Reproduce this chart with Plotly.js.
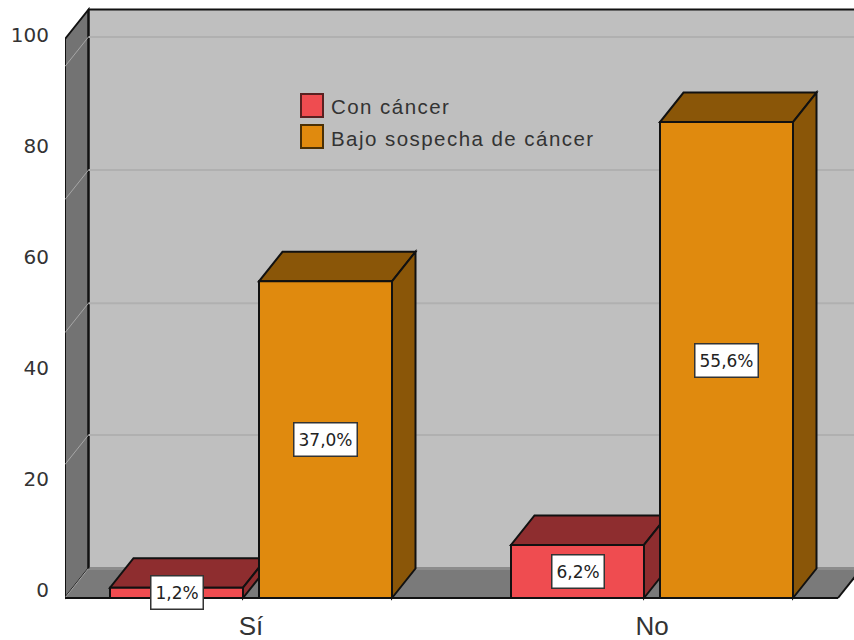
<!DOCTYPE html>
<html>
<head>
<meta charset="utf-8">
<script src="https://cdn.plot.ly/plotly-3.0.1.min.js"></script>
<style>
html,body{margin:0;padding:0;background:#fff}
#chart{width:854px;height:640px}
</style>
</head>
<body>
<div id="chart"></div>
<script>
// Clustered bars with an extruded look: percentages per group.
const categories = ['Sí', 'No'];
const conCancer = [1.2, 6.2];
const bajoSospecha = [37.0, 55.6];
const seriesNames = ['Con cáncer', 'Bajo sospecha de cáncer'];
const axisTicks = [0, 20, 40, 60, 80, 100];
const gridLevels = [15.6, 31.0, 46.55, 62.1];

const plotW = 854 - 65, plotH = 606;
const pxPerCat = 401, catZeroPx = 251 - 65;
const pxPerPct = 8.56, zeroPx = 598;
const tickZeroPx = 590, pxPerTick = 5.55;

const xRange = [-catZeroPx / pxPerCat, (plotW - catZeroPx) / pxPerCat];
const yRange = [(zeroPx - plotH) / pxPerPct, zeroPx / pxPerPct];
const y2Range = [(tickZeroPx - plotH) / pxPerTick, tickZeroPx / pxPerTick];

const barW = 133 / pxPerCat, barGap = 16 / pxPerCat;
const depthX = 23.5 / pxPerCat, depthY = 29.5 / pxPerPct;
const wallTop = (zeroPx - 39) / pxPerPct;
const wallL = xRange[0], wallR = (838 - 251) / pxPerCat;

const C = {
  red: '#EF4C50', redDark: '#8E2D2F',
  orange: '#E08A0E', orangeDark: '#8A5608',
  back: '#BFBFBF', side: '#737373', floor: '#7A7A7A', floorEdge: '#8C8C8C',
  grid: '#B0B0B0', sideGrid: '#A6A6A6', edge: '#111111'
};

function poly(pts, fill, lineColor, lineWidth) {
  return {
    type: 'path', xref: 'x', yref: 'y', layer: 'below',
    path: 'M' + pts.map(p => p[0] + ',' + p[1]).join(' L') + ' Z',
    fillcolor: fill,
    line: { color: lineColor || C.edge, width: lineWidth === undefined ? 2 : lineWidth }
  };
}
function seg(a, b, color, width) {
  return {
    type: 'line', xref: 'x', yref: 'y', layer: 'below',
    x0: a[0], y0: a[1], x1: b[0], y1: b[1],
    line: { color: color, width: width }
  };
}

// Room: back wall, left wall, floor and their grid lines
const shapes = [
  poly([[wallL + depthX, depthY], [wallR + depthX, depthY], [wallR + depthX, wallTop + depthY], [wallL + depthX, wallTop + depthY]], C.back, C.back, 0),
  poly([[wallL, 0], [wallL + depthX, depthY], [wallL + depthX, wallTop + depthY], [wallL, wallTop]], C.side, C.edge, 2),
  poly([[wallL, 0], [wallR, 0], [wallR + depthX, depthY], [wallL + depthX, depthY]], C.floor, C.floor, 0),
  seg([wallL + depthX, depthY], [wallR + depthX, depthY], C.floorEdge, 3),
  seg([wallL, 0], [wallL + depthX, depthY], C.sideGrid, 1),
  seg([wallL + depthX, depthY], [wallL + depthX, wallTop + depthY], C.edge, 2),
  seg([wallL + depthX, wallTop + depthY], [wallR + depthX, wallTop + depthY], C.edge, 2),
  seg([wallL, 0], [wallR, 0], C.edge, 2),
  seg([wallR, 0], [wallR + depthX, depthY], C.edge, 2)
];
gridLevels.forEach(v => {
  shapes.push(seg([wallL + depthX, v + depthY], [wallR + depthX, v + depthY], C.grid, 2));
  shapes.push(seg([wallL, v], [wallL + depthX, v + depthY], C.sideGrid, 1));
});

// Extruded top and side of a bar
function extrude(left, value, dark) {
  const right = left + barW;
  shapes.push(poly([[left, value], [right, value], [right + depthX, value + depthY], [left + depthX, value + depthY]], dark));
  shapes.push(poly([[right, 0], [right + depthX, depthY], [right + depthX, value + depthY], [right, value]], dark));
}
categories.forEach((_, i) => {
  extrude(i - barGap / 2 - barW, conCancer[i], C.redDark);
  extrude(i + barGap / 2, bajoSospecha[i], C.orangeDark);
});

const pctText = v => v.toFixed(1).replace('.', ',') + '%';
const labelFont = { family: 'DejaVu Sans, sans-serif', size: 17, color: '#222' };
const annotations = [];
function valueLabel(x, v) {
  annotations.push({
    xref: 'x', yref: 'y', x: x, y: v / 2, text: pctText(v), showarrow: false,
    font: labelFont, bgcolor: '#FFFFFF', bordercolor: '#333333', borderwidth: 1.5, borderpad: 4,
    height: 24, valign: 'middle'
  });
}
categories.forEach((_, i) => {
  valueLabel(i - barGap / 2 - barW / 2, conCancer[i]);
  valueLabel(i + barGap / 2 + barW / 2, bajoSospecha[i]);
});

// Key placed inside the plot
const keyRows = [[94, 117, C.red, '#5A2020'], [125, 148, C.orange, '#4A3005']];
keyRows.forEach((row, i) => {
  shapes.push({
    type: 'rect', xref: 'paper', yref: 'paper', layer: 'above',
    x0: (301 - 65) / plotW, x1: (323 - 65) / plotW,
    y0: 1 - row[1] / plotH, y1: 1 - row[0] / plotH,
    fillcolor: row[2], line: { color: row[3], width: 2 }
  });
  annotations.push({
    xref: 'paper', yref: 'paper', x: (329 - 65) / plotW, y: 1 - ((row[0] + row[1]) / 2 + 1.5) / plotH,
    xanchor: 'left', yanchor: 'middle', showarrow: false, text: seriesNames[i],
    font: { family: 'Liberation Sans, sans-serif', size: 20.5, color: '#333' },
    captureevents: false
  });
});

const indices = categories.map((_, i) => i);
const data = [
  { type: 'bar', name: seriesNames[0], x: indices, y: conCancer, width: barW, offset: -barGap / 2 - barW,
    marker: { color: C.red, line: { color: C.edge, width: 2 } }, hoverinfo: 'x+y' },
  { type: 'bar', name: seriesNames[1], x: indices, y: bajoSospecha, width: barW, offset: barGap / 2,
    marker: { color: C.orange, line: { color: C.edge, width: 2 } }, hoverinfo: 'x+y' },
  { type: 'scatter', mode: 'none', x: [null], y: [null], yaxis: 'y2', showlegend: false, hoverinfo: 'skip' }
];

const layout = {
  width: 854, height: 640,
  margin: { l: 65, r: 0, t: 0, b: 640 - plotH },
  paper_bgcolor: '#FFFFFF', plot_bgcolor: '#FFFFFF',
  showlegend: false, barmode: 'overlay',
  xaxis: {
    range: xRange, tickvals: indices, ticktext: categories, showgrid: false, zeroline: false,
    showline: false, ticks: '', ticklabelstandoff: 2, fixedrange: true,
    tickfont: { family: 'Liberation Sans, sans-serif', size: 26, color: '#333' }
  },
  yaxis: { range: yRange, visible: false, fixedrange: true },
  yaxis2: {
    range: y2Range, overlaying: 'y', anchor: 'x', side: 'left', tickvals: axisTicks, showgrid: false,
    zeroline: false, showline: false, ticks: '', ticklabelstandoff: 15, fixedrange: true,
    tickfont: { family: 'DejaVu Sans, sans-serif', size: 20, color: '#333' }
  },
  shapes: shapes,
  annotations: annotations
};

Plotly.newPlot('chart', data, layout, { displayModeBar: false, staticPlot: true }).then(() => {
  // Wider tracking on the key entries, keeping their left edges in place
  document.querySelectorAll('.annotation-text').forEach(t => {
    if (!seriesNames.includes(t.textContent)) return;
    const before = t.getComputedTextLength();
    t.style.letterSpacing = '1.45px';
    const after = t.getComputedTextLength();
    t.setAttribute('x', parseFloat(t.getAttribute('x')) + (after - before) / 2);
  });
});
</script>
</body>
</html>
